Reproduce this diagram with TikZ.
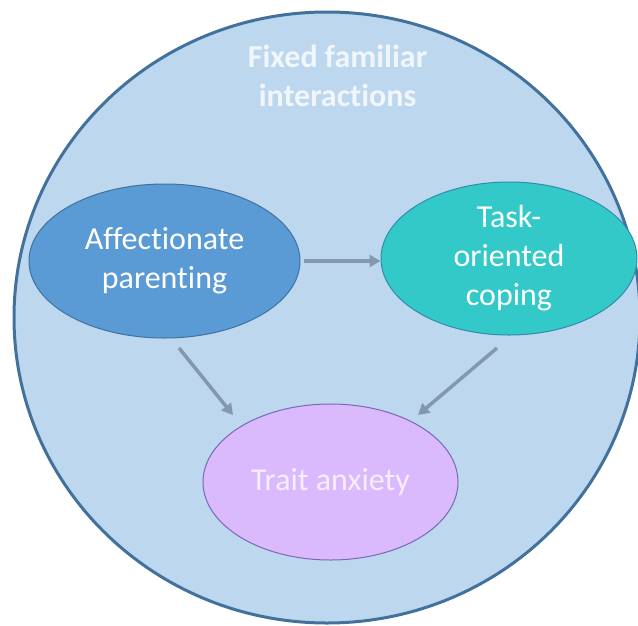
\documentclass[tikz,border=0pt]{standalone}
\usepackage{fontspec}
\setmainfont{Carlito}[Ligatures={NoCommon}]
\usetikzlibrary{arrows.meta,shapes.geometric}
\definecolor{outerfill}{HTML}{BDD7EE}
\definecolor{outerline}{HTML}{41719C}
\definecolor{apfill}{HTML}{5B9BD5}
\definecolor{apline}{HTML}{41719C}
\definecolor{tcfill}{HTML}{33C9C9}
\definecolor{tcline}{HTML}{2F8DAA}
\definecolor{tafill}{HTML}{DAB9FD}
\definecolor{taline}{HTML}{7869B3}
\definecolor{arrowcol}{HTML}{8497B0}
\definecolor{titlecol}{HTML}{F0F6FC}
\definecolor{tatext}{HTML}{F6EEFF}
\tikzset{
  bigtext/.style={font=\fontsize{32}{39}\selectfont, align=center},
  oval/.style={ellipse, inner sep=0pt, bigtext, text=white, line width=1pt},
  arr/.style={draw=arrowcol, line width=3.5pt, -{Triangle[length=11pt,width=12pt]}}
}
\begin{document}
\begin{tikzpicture}[x=1pt,y=-1pt]
\useasboundingbox (0,0) rectangle (638,625);
\node[ellipse, draw=outerline, fill=outerfill, line width=3pt, minimum width=626pt, minimum height=611pt, inner sep=0pt] (outer) at (327,317.5) {};
\node[bigtext, font=\fontsize{32}{39}\selectfont\bfseries, text=titlecol] (title) at (337.5,76) {Fixed familiar\\interactions};
\node[oval, draw=apline, fill=apfill, minimum width=271pt, minimum height=154pt] (ap) at (164.5,261) {Affectionate\\parenting};
\node[oval, draw=tcline, fill=tcfill, minimum width=256pt, minimum height=153pt] (tc) at (509,258.5) {Task-\\oriented\\coping};
\node[oval, draw=taline, fill=tafill, text=tatext, minimum width=255pt, minimum height=156pt] (ta) at (330.5,482) {Trait anxiety};
\coordinate (s1) at (179,348);
\coordinate (e1) at (233,415);
\coordinate (s2) at (497,348);
\coordinate (e2) at (418,415);
\draw[arr] ([xshift=3pt]ap.east) -- (tc.west |- ap.east);
\draw[arr] (s1) -- (e1);
\draw[arr] (s2) -- (e2);
\end{tikzpicture}
\end{document}
